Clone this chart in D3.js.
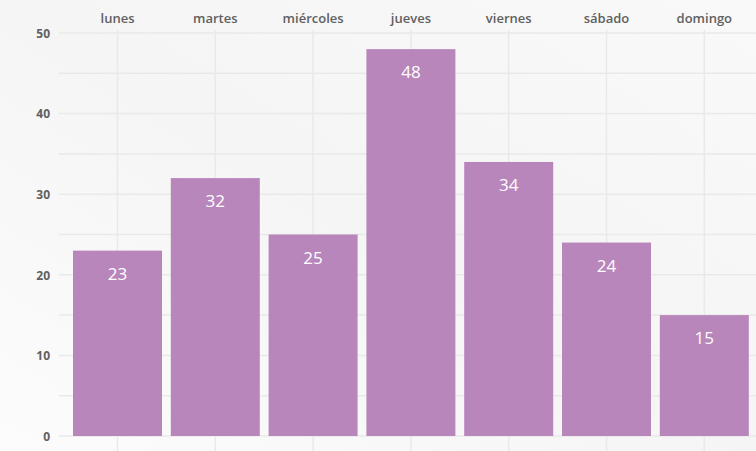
<!DOCTYPE html>
<html><head><meta charset="utf-8">
<script src="https://cdn.jsdelivr.net/npm/d3@7"></script>
<style>body{margin:0;}svg{display:block;}</style>
</head><body>
<svg id="c" width="756" height="451"></svg>
<script>
const categories = ["lunes","martes","miércoles","jueves","viernes","sábado","domingo"];
const values = [23,32,25,48,34,24,15];
const yTicks = [0,10,20,30,40,50];
const gridTicks = [0,5,10,15,20,25,30,35,40,45,50];

const W=756,H=451;
const svg=d3.select("#c");
const defs=svg.append("defs");
const g=defs.append("linearGradient").attr("id","bg").attr("x1","0").attr("y1","1").attr("x2","1").attr("y2","0");
g.append("stop").attr("offset","0").attr("stop-color","#fcfcfc");
g.append("stop").attr("offset","0.5").attr("stop-color","#f5f5f5");
g.append("stop").attr("offset","1").attr("stop-color","#f9f9f9");
svg.append("rect").attr("width",W).attr("height",H).attr("fill","url(#bg)");

const x=d3.scaleBand().domain(categories).range([68.6,753.2]).paddingInner(0.09).paddingOuter(0.045);
const y=d3.scaleLinear().domain([0,50]).range([436,33]);

svg.append("g").selectAll("line").data(gridTicks).join("line")
  .attr("x1",59).attr("x2",W).attr("y1",d=>y(d)).attr("y2",d=>y(d))
  .attr("stroke","#e9e9e9").attr("stroke-width",1.5);
svg.append("g").selectAll("line").data(categories).join("line")
  .attr("x1",d=>x(d)+x.bandwidth()/2).attr("x2",d=>x(d)+x.bandwidth()/2)
  .attr("y1",30).attr("y2",H).attr("stroke","#e9e9e9").attr("stroke-width",1.5);

svg.append("g").selectAll("rect").data(values).join("rect")
  .attr("x",(d,i)=>x(categories[i])).attr("width",x.bandwidth())
  .attr("y",d=>y(d)).attr("height",d=>y(0)-y(d)).attr("fill","#b886bb");

svg.append("g").selectAll("text").data(values).join("text")
  .attr("x",(d,i)=>x(categories[i])+x.bandwidth()/2).attr("y",d=>y(d)+29)
  .attr("text-anchor","middle").attr("fill","#fff")
  .attr("font-family","Open Sans, sans-serif").attr("font-size",17).text(d=>d);

const ya=d3.axisLeft(y).tickValues(yTicks).tickSize(0).tickPadding(0);
const yg=svg.append("g").attr("transform","translate(50,0)").call(ya);
yg.select(".domain").remove();
yg.selectAll("text").attr("fill","#606060").attr("font-family","Open Sans, sans-serif")
  .attr("font-weight","bold").attr("font-size",12).attr("dy","0.35em");

const xa=d3.axisTop(x).tickSize(0).tickPadding(0);
const xg=svg.append("g").attr("transform","translate(0,23)").call(xa);
xg.select(".domain").remove();
xg.selectAll("text").attr("fill","#606060").attr("font-family","Open Sans, sans-serif")
  .attr("font-weight","600").attr("font-size",13).attr("dy",0);
</script>
</body></html>
